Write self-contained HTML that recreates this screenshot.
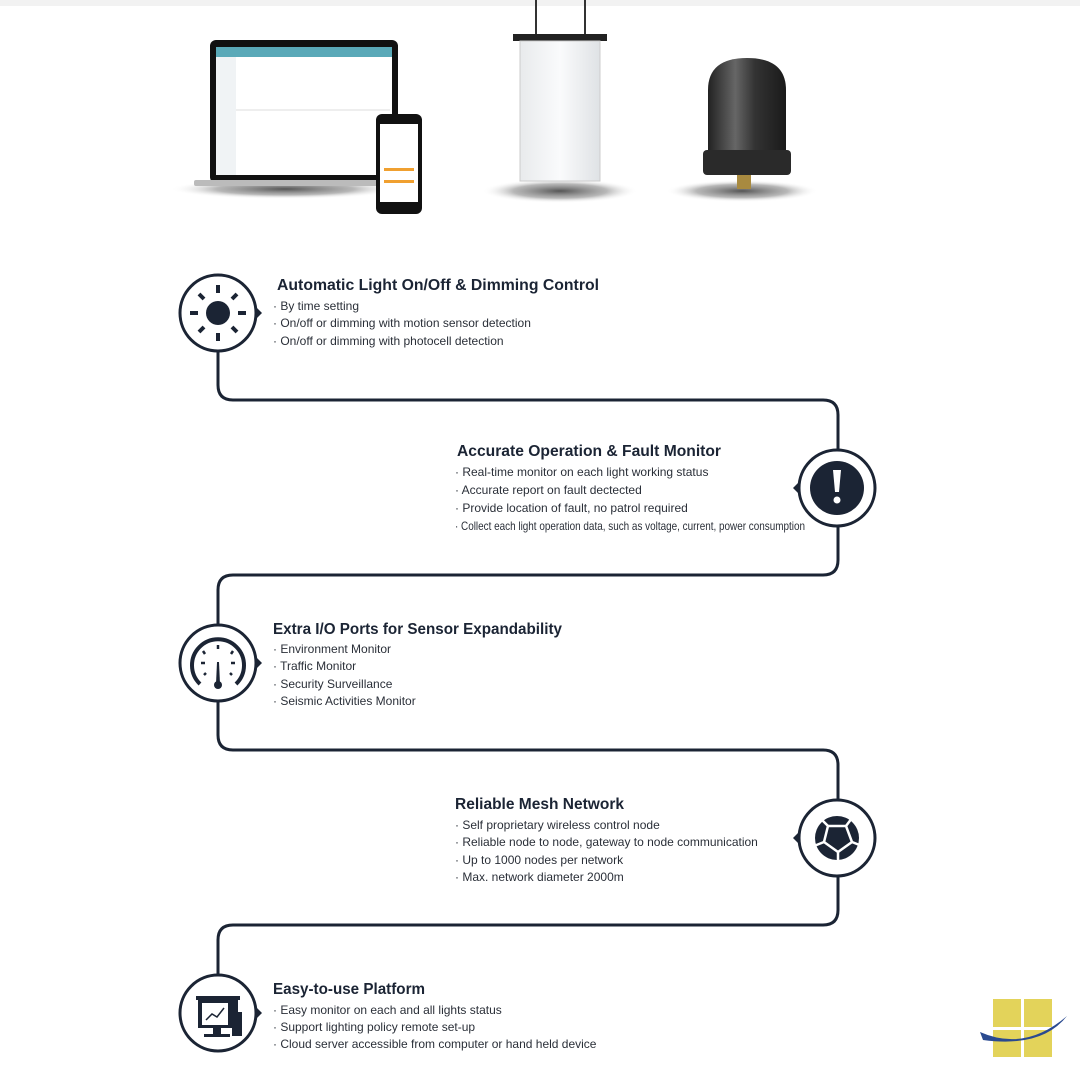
<!DOCTYPE html>
<html><head><meta charset="utf-8"><style>
body{margin:0;background:#fff;width:1080px;height:1080px;overflow:hidden;font-family:"Liberation Sans",sans-serif;}
</style></head><body>
<svg width="1080" height="1080" viewBox="0 0 1080 1080" xmlns="http://www.w3.org/2000/svg">
<defs>
<radialGradient id="sh" cx="50%" cy="50%" r="50%"><stop offset="0" stop-color="#555"/><stop offset="0.6" stop-color="#888" stop-opacity="0.6"/><stop offset="1" stop-color="#fff" stop-opacity="0"/></radialGradient>
<linearGradient id="pan" x1="0" x2="1"><stop offset="0" stop-color="#e8eaec"/><stop offset="0.5" stop-color="#fafbfc"/><stop offset="1" stop-color="#dfe2e5"/></linearGradient>
<linearGradient id="pc" x1="0" x2="1"><stop offset="0" stop-color="#222"/><stop offset="0.35" stop-color="#666"/><stop offset="0.6" stop-color="#333"/><stop offset="1" stop-color="#1a1a1a"/></linearGradient>
</defs>
<rect x="0" y="0" width="1080" height="6" fill="#f2f2f2"/>
<ellipse cx="285" cy="189" rx="115" ry="10" fill="url(#sh)"/>
<rect x="210" y="40" width="188" height="143" rx="6" fill="#111"/>
<rect x="216" y="47" width="176" height="128" fill="#fff"/>
<rect x="216" y="47" width="176" height="10" fill="#5aa9b8"/>
<rect x="216" y="57" width="20" height="118" fill="#f0f3f5"/>
<line x1="236" y1="110" x2="390" y2="110" stroke="#ddd"/>
<rect x="194" y="180" width="220" height="6" rx="2" fill="#bbb"/>
<rect x="376" y="114" width="46" height="100" rx="6" fill="#111"/>
<rect x="380" y="124" width="38" height="78" fill="#fff"/>
<rect x="384" y="168" width="30" height="3" fill="#f0a030"/>
<rect x="384" y="180" width="30" height="3" fill="#f0a030"/>
<line x1="536" y1="0" x2="536" y2="36" stroke="#333" stroke-width="2"/>
<line x1="585" y1="0" x2="585" y2="36" stroke="#333" stroke-width="2"/>
<ellipse cx="560" cy="191" rx="78" ry="12" fill="url(#sh)"/>
<rect x="513" y="34" width="94" height="7" fill="#222"/>
<rect x="520" y="41" width="80" height="140" fill="url(#pan)" stroke="#ccc"/>
<ellipse cx="742" cy="191" rx="76" ry="11" fill="url(#sh)"/>
<path d="M708 172 L708 90 Q708 58 747 58 Q786 58 786 90 L786 172 Z" fill="url(#pc)"/>
<rect x="703" y="150" width="88" height="25" rx="4" fill="#2a2a2a"/>
<rect x="737" y="175" width="14" height="14" fill="#a88a40"/>
<g fill="none" stroke="#1b2434" stroke-width="3">
<path d="M218 351 V385 Q218 400 233 400 H823 Q838 400 838 415 V450"/>
<path d="M838 526 V560 Q838 575 823 575 H233 Q218 575 218 590 V625"/>
<path d="M218 701 V735 Q218 750 233 750 H823 Q838 750 838 765 V800"/>
<path d="M838 876 V910 Q838 925 823 925 H233 Q218 925 218 940 V975"/>
<circle cx="218" cy="313" r="38"/>
<circle cx="837" cy="488" r="38"/>
<circle cx="218" cy="663" r="38"/>
<circle cx="837" cy="838" r="38"/>
<circle cx="218" cy="1013" r="38"/>
</g>
<g fill="#1b2434">
<path d="M256 307 L262 313 L256 319Z"/>
<path d="M799 482 L793 488 L799 494Z"/>
<path d="M256 657 L262 663 L256 669Z"/>
<path d="M799 832 L793 838 L799 844Z"/>
<path d="M256 1007 L262 1013 L256 1019Z"/>
<circle cx="218" cy="313" r="12"/>
<g stroke="#1b2434" stroke-width="4">
<line x1="218" y1="285" x2="218" y2="293"/><line x1="218" y1="333" x2="218" y2="341"/>
<line x1="190" y1="313" x2="198" y2="313"/><line x1="238" y1="313" x2="246" y2="313"/>
<line x1="199" y1="294" x2="204" y2="299"/><line x1="232" y1="327" x2="237" y2="332"/>
<line x1="237" y1="294" x2="232" y2="299"/><line x1="199" y1="332" x2="204" y2="327"/>
</g>
<circle cx="837" cy="488" r="27"/>
<path d="M833 470 h8 l-2 22 h-4z" fill="#fff"/><circle cx="837" cy="500" r="3.5" fill="#fff"/>
<path d="M200 684 A26 26 0 1 1 236 684" fill="none" stroke="#1b2434" stroke-width="4"/>
<path d="M217 662 L219 662 L220 684 L216 684Z"/><circle cx="218" cy="685" r="4"/>
<g stroke="#1b2434" stroke-width="2.5">
<line x1="218" y1="645" x2="218" y2="649"/><line x1="203" y1="651" x2="205" y2="654"/><line x1="233" y1="651" x2="231" y2="654"/>
<line x1="201" y1="663" x2="205" y2="663"/><line x1="231" y1="663" x2="235" y2="663"/>
<line x1="204" y1="675" x2="206" y2="673"/><line x1="232" y1="675" x2="230" y2="673"/>
</g>
<circle cx="837" cy="838" r="22"/>
<g stroke="#fff" stroke-width="2.5" fill="none">
<path d="M828 826 L846 826 L852 842 L838 852 L824 842Z"/>
<line x1="828" y1="826" x2="820" y2="818"/><line x1="846" y1="826" x2="852" y2="818"/>
<line x1="852" y1="842" x2="862" y2="846"/><line x1="838" y1="852" x2="838" y2="862"/><line x1="824" y1="842" x2="814" y2="846"/>
</g>
<rect x="196" y="996" width="44" height="4"/>
<rect x="198" y="1000" width="40" height="28"/>
<rect x="202" y="1003" width="26" height="22" fill="#fff"/>
<rect x="232" y="1012" width="10" height="24"/>
<rect x="213" y="1028" width="8" height="6"/><rect x="204" y="1034" width="26" height="3"/>
<polyline points="206,1020 212,1014 217,1017 224,1008" fill="none" stroke="#1b2434" stroke-width="1.5"/>
</g>
<g fill="#1b2434" font-family="Liberation Sans, sans-serif">
<g font-size="16" font-weight="bold" lengthAdjust="spacingAndGlyphs">
<text x="277" y="290" textLength="322" lengthAdjust="spacingAndGlyphs">Automatic Light On/Off &amp; Dimming Control</text>
<text x="457" y="456" textLength="264" lengthAdjust="spacingAndGlyphs">Accurate Operation &amp; Fault Monitor</text>
<text x="273" y="634" textLength="289" lengthAdjust="spacingAndGlyphs">Extra I/O Ports for Sensor Expandability</text>
<text x="455" y="809" textLength="169" lengthAdjust="spacingAndGlyphs">Reliable Mesh Network</text>
<text x="273" y="994" textLength="152" lengthAdjust="spacingAndGlyphs">Easy-to-use Platform</text>
</g>
<g font-size="12" fill="#2a2f38">
<text x="273" y="310">· By time setting</text>
<text x="273" y="327">· On/off or dimming with motion sensor detection</text>
<text x="273" y="345">· On/off or dimming with photocell detection</text>
<text x="455" y="476">· Real-time monitor on each light  working status</text>
<text x="455" y="494">· Accurate report on fault dectected</text>
<text x="455" y="512">· Provide location of fault, no patrol required</text>
<text x="455" y="530" textLength="350" lengthAdjust="spacingAndGlyphs">· Collect each light operation data, such as voltage, current, power consumption</text>
<text x="273" y="653">· Environment Monitor</text>
<text x="273" y="670">· Traffic Monitor</text>
<text x="273" y="688">· Security Surveillance</text>
<text x="273" y="705">· Seismic Activities Monitor</text>
<text x="455" y="829">· Self proprietary wireless control node</text>
<text x="455" y="846">· Reliable node to node, gateway to node communication</text>
<text x="455" y="864">· Up to 1000 nodes per network</text>
<text x="455" y="881">· Max. network diameter 2000m</text>
<text x="273" y="1014">· Easy monitor on each and all lights status</text>
<text x="273" y="1031">· Support lighting policy remote set-up</text>
<text x="273" y="1048">· Cloud server accessible from computer or hand held device</text>
</g>
</g>
<g fill="#e3d35a">
<rect x="993" y="999" width="28" height="28"/><rect x="1024" y="999" width="28" height="28"/>
<rect x="993" y="1030" width="28" height="27"/><rect x="1024" y="1030" width="28" height="27"/>
</g>
<path d="M980 1032 Q1025 1052 1067 1016 Q1042 1048 983 1040Z" fill="#2a4a90"/>
</svg>
</body></html>
